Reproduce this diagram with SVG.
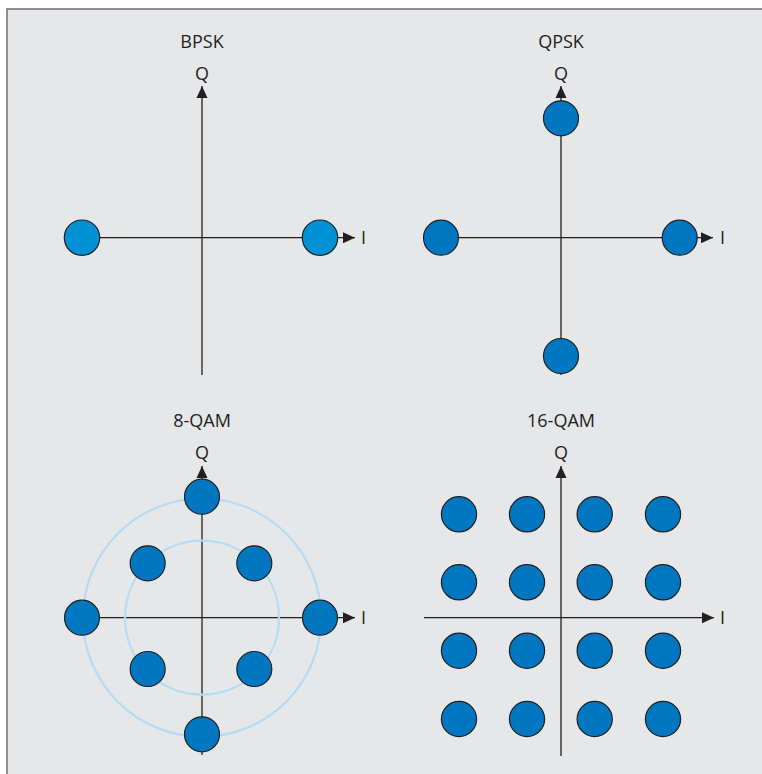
<svg xmlns="http://www.w3.org/2000/svg" width="762" height="774" viewBox="0 0 762 774">
<defs>
<marker id="arr" viewBox="0 0 12 12" refX="12" refY="6" markerWidth="12" markerHeight="12" markerUnits="userSpaceOnUse" orient="auto">
<path d="M0,0.5 L12,6 L0,11.5 Z" fill="#231f20"/>
</marker>
<style>
.ax{stroke:#231f20;stroke-width:1.3;fill:none}
.axa{stroke:#231f20;stroke-width:1.3;fill:none;marker-end:url(#arr)}
.pt{fill:#0077c0;stroke:#231f20;stroke-width:1.2}
.pt2{fill:#0090d5;stroke:#231f20;stroke-width:1.2}
.ring{fill:none;stroke:#b5dcf3;stroke-width:2.3}
.t{font-family:"Open Sans","Liberation Sans",sans-serif;font-size:18px;fill:#231f20;text-anchor:middle}
.tl{font-family:"Open Sans","Liberation Sans",sans-serif;font-size:18px;fill:#231f20}
</style>
</defs>
<rect x="0" y="0" width="762" height="774" fill="#ffffff"/>
<rect x="7" y="9" width="800" height="800" fill="#e6e7e9" stroke="#6d6e70" stroke-width="1.5"/>

<g id="connectors">
<line class="axa" x1="202" y1="375" x2="202" y2="86"/>
<line class="axa" x1="82" y1="237.7" x2="355" y2="237.7"/>
<line class="axa" x1="561" y1="375" x2="561" y2="86"/>
<line class="axa" x1="441" y1="237.7" x2="713" y2="237.7"/>
<line class="axa" x1="202" y1="755" x2="202" y2="466"/>
<line class="axa" x1="82" y1="617.7" x2="355" y2="617.7"/>
<line class="axa" x1="561" y1="756" x2="561" y2="466"/>
<line class="axa" x1="424" y1="617.7" x2="714" y2="617.7"/>
</g>

<g id="bpsk">
<text class="t" x="202" y="47.5">BPSK</text>
<text class="t" x="202" y="79.5">Q</text>
<text class="tl" x="361" y="244">I</text>
<circle class="pt2" cx="82" cy="237.7" r="17.7"/>
<circle class="pt2" cx="320" cy="237.7" r="17.7"/>
</g>

<g id="qpsk">
<text class="t" x="561" y="47.5">QPSK</text>
<text class="t" x="561" y="79.5">Q</text>
<text class="tl" x="720" y="244">I</text>
<circle class="pt" cx="561" cy="118.3" r="17.5"/>
<circle class="pt" cx="561" cy="356" r="17.5"/>
<circle class="pt" cx="441" cy="237.7" r="17.5"/>
<circle class="pt" cx="679.7" cy="237.7" r="17.5"/>
</g>

<g id="qam8">
<text class="t" x="202" y="426.5">8-QAM</text>
<text class="t" x="202" y="459">Q</text>
<text class="tl" x="361" y="624">I</text>
<circle class="ring" cx="202" cy="617.7" r="119"/>
<circle class="ring" cx="202" cy="617.7" r="77"/>
<circle class="pt" cx="202" cy="496.7" r="17.5"/>
<circle class="pt" cx="202" cy="734.3" r="17.5"/>
<circle class="pt" cx="82" cy="617.7" r="17.5"/>
<circle class="pt" cx="320" cy="617.7" r="17.5"/>
<circle class="pt" cx="147.7" cy="563.3" r="17.5"/>
<circle class="pt" cx="254.3" cy="563.3" r="17.5"/>
<circle class="pt" cx="147.7" cy="669" r="17.5"/>
<circle class="pt" cx="254.3" cy="669" r="17.5"/>
</g>

<g id="qam16">
<text class="t" x="561" y="426.5">16-QAM</text>
<text class="t" x="561" y="459">Q</text>
<text class="tl" x="720" y="624">I</text>
<circle class="pt" cx="459" cy="514.3" r="17.6"/>
<circle class="pt" cx="527" cy="514.3" r="17.6"/>
<circle class="pt" cx="594.7" cy="514.3" r="17.6"/>
<circle class="pt" cx="663" cy="514.3" r="17.6"/>
<circle class="pt" cx="459" cy="582.3" r="17.6"/>
<circle class="pt" cx="527" cy="582.3" r="17.6"/>
<circle class="pt" cx="594.7" cy="582.3" r="17.6"/>
<circle class="pt" cx="663" cy="582.3" r="17.6"/>
<circle class="pt" cx="459" cy="650.7" r="17.6"/>
<circle class="pt" cx="527" cy="650.7" r="17.6"/>
<circle class="pt" cx="594.7" cy="650.7" r="17.6"/>
<circle class="pt" cx="663" cy="650.7" r="17.6"/>
<circle class="pt" cx="459" cy="719" r="17.6"/>
<circle class="pt" cx="527" cy="719" r="17.6"/>
<circle class="pt" cx="594.7" cy="719" r="17.6"/>
<circle class="pt" cx="663" cy="719" r="17.6"/>
</g>
</svg>
